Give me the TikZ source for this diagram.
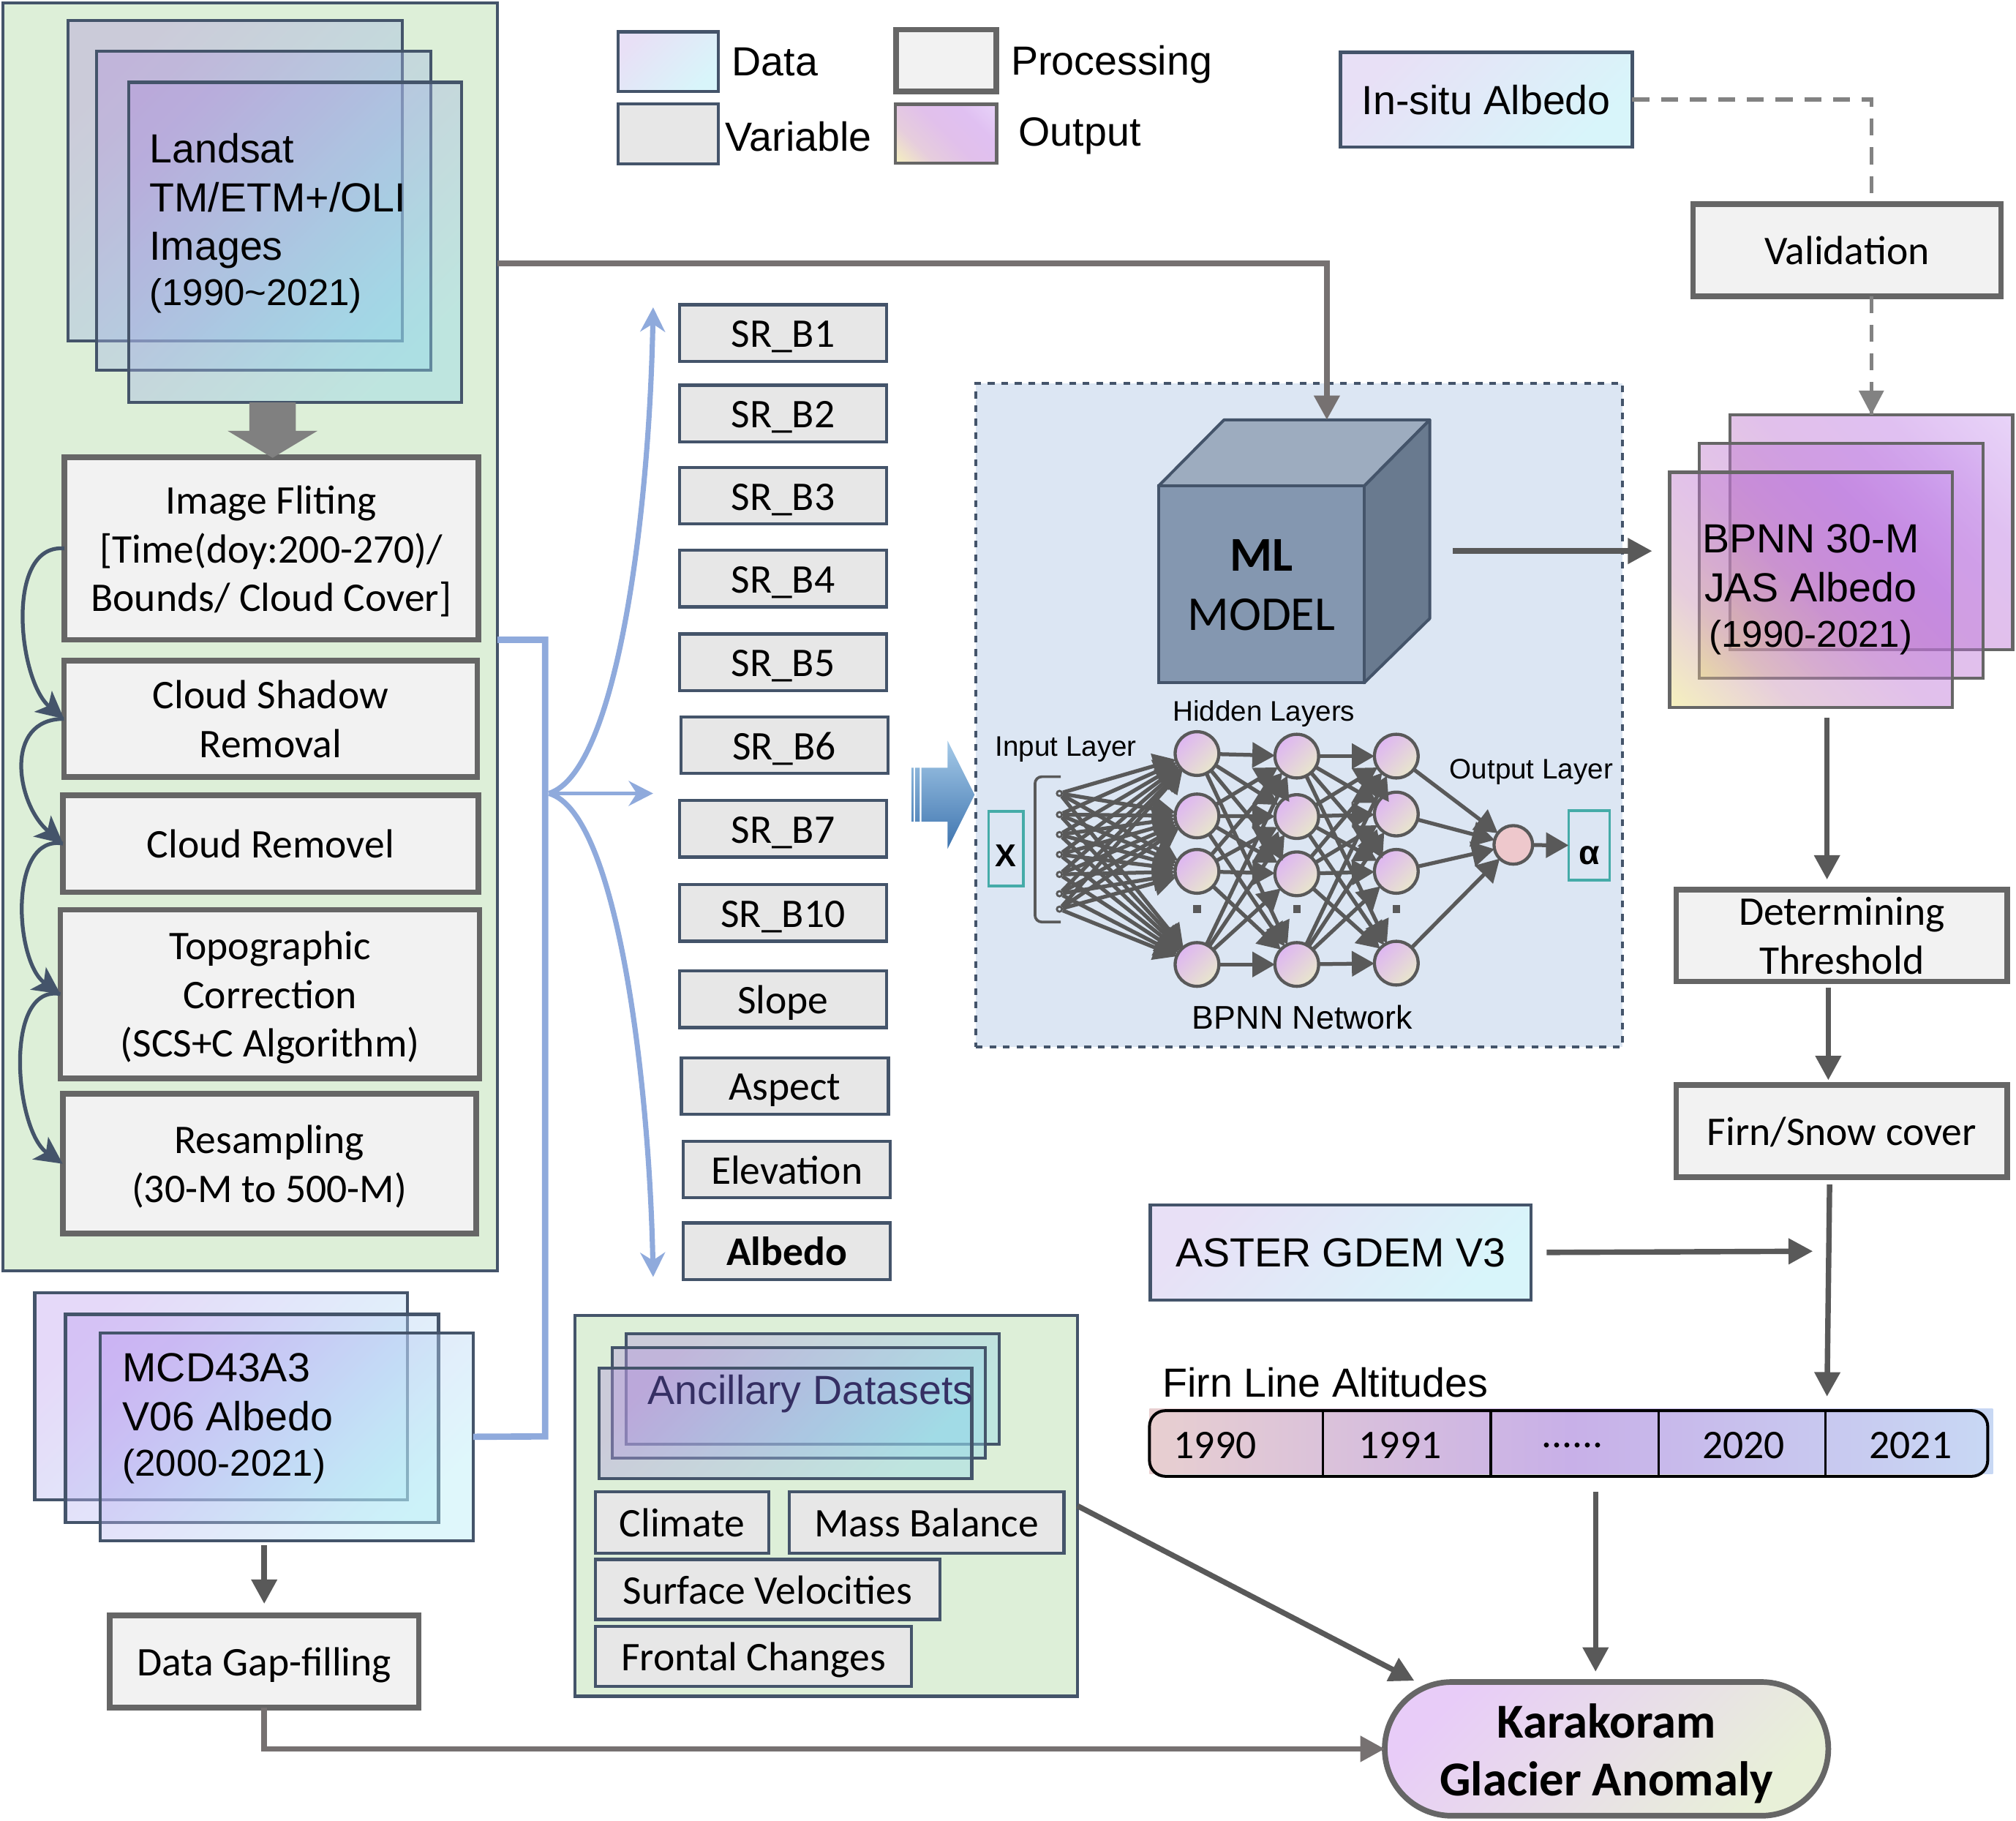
\documentclass[tikz,border=0pt]{standalone}
\usepackage{amsmath}
\usepackage{fontspec}
\setmainfont{Liberation Sans}
\newfontfamily\calib{Carlito}
\usepackage{tikz}
\usetikzlibrary{positioning, calc, arrows.meta, shapes.misc}
\definecolor{edgeblue}{HTML}{44546A}
\definecolor{procedge}{HTML}{666666}
\definecolor{procfill}{HTML}{F2F2F2}
\definecolor{varfill}{HTML}{E7E7E7}
\definecolor{panelgreen}{HTML}{DDEFD8}
\definecolor{panelblue}{HTML}{DCE6F3}
\definecolor{netgray}{HTML}{595959}
\definecolor{linegray}{HTML}{767171}
\definecolor{dashgray}{HTML}{828282}
\definecolor{pipeblue}{HTML}{8FAADC}
\definecolor{boxteal}{HTML}{45ABA8}
\definecolor{datatl}{HTML}{E8E0F6}
\definecolor{databr}{HTML}{D8F5FA}
\definecolor{layertl}{RGB}{190,160,240}
\definecolor{layerbr}{RGB}{175,235,245}
\definecolor{landtl}{RGB}{178,150,220}
\definecolor{landbr}{RGB}{145,215,235}
\definecolor{outbl}{RGB}{233,222,111}
\definecolor{outlow}{RGB}{200,145,178}
\definecolor{outmid}{RGB}{189,116,210}
\definecolor{outhigh}{RGB}{186,116,225}
\definecolor{outtr}{RGB}{204,158,240}
\definecolor{neurontl}{HTML}{DEB6F2}
\definecolor{neuronbr}{HTML}{E8E6CC}
\definecolor{neuronout}{HTML}{EEC8CC}
\definecolor{arrowtop}{HTML}{A5CAE8}
\definecolor{arrowbot}{HTML}{3E74AF}
\definecolor{cubetop}{HTML}{9DACBF}
\definecolor{cubeside}{HTML}{697A8F}
\definecolor{cubefront}{HTML}{8497B0}
\definecolor{barleft}{HTML}{E8CFD0}
\definecolor{barmid}{HTML}{C8B0E8}
\definecolor{barright}{HTML}{C8D8F4}
\definecolor{ancink}{HTML}{352F63}
\definecolor{kartl}{HTML}{E8CCF8}
\definecolor{karbr}{HTML}{E8F0D8}
\pgfdeclarehorizontalshading{outfade}{100bp}{color(0bp)=(outbl); color(15bp)=(outbl); color(32bp)=(outlow); color(50bp)=(outmid); color(68bp)=(outhigh); color(85bp)=(outtr); color(100bp)=(outtr)}
\tikzset{
    wh/.style 2 args={minimum width=#1*0.02cm, minimum height=#2*0.02cm, inner sep=0pt, outer sep=0pt},
    sanstext/.style={font=\fontsize{18}{21.6}\selectfont, inner sep=0pt},
    calibtext/.style={font=\calib\fontsize{18}{21.6}\selectfont},
    oneline/.style={text height=12.7pt, text depth=0pt},
    twolines/.style={text height=34.3pt, text depth=0pt},
    threelines/.style={text height=55.9pt, text depth=0pt},
    panel/.style={draw=edgeblue, line width=1.4pt, fill=panelgreen},
    procbox/.style={draw=procedge, line width=2.5pt, fill=procfill, calibtext, align=center, oneline},
    varbox/.style={draw=edgeblue, line width=1.4pt, fill=varfill, calibtext, align=center, oneline},
    databox/.style={draw=edgeblue, line width=1.4pt, left color=datatl, right color=databr, shading angle=45, sanstext, align=center},
    datalayer/.style={draw=edgeblue, line width=1.4pt, fill opacity=0.4, left color=layertl, right color=layerbr, shading angle=45},
    landlayer/.style={draw=edgeblue, line width=1.4pt, fill opacity=0.4, left color=landtl, right color=landbr, shading angle=45},
    outlayer/.style={draw=procedge, line width=1.4pt, fill opacity=0.45, shade, shading=outfade, shading angle=45},
    neuron/.style={circle, draw=netgray, line width=1.4pt, minimum size=34*0.02cm, inner sep=0pt, outer sep=0pt, left color=neurontl, right color=neuronbr, shading angle=45},
    inputdot/.style={circle, draw=netgray, fill=panelblue, line width=0.9pt, minimum size=4*0.02cm, inner sep=0pt},
    skipdot/.style={fill=netgray, minimum size=6*0.02cm, inner sep=0pt},
    netlabel/.style={font=\fontsize{12.5}{15}\selectfont},
    netedge/.style={draw=netgray, line width=1.7pt, -{Triangle[length=10pt,width=11pt]}},
    thickarrow/.style={draw=netgray, line width=2.4pt, -{Triangle[length=10.8pt,width=11pt]}},
    routearrow/.style={draw=linegray, line width=2.5pt, -{Triangle[length=10.8pt,width=11pt]}},
    dasharrow/.style={draw=dashgray, line width=1.8pt, dash pattern=on 7.5pt off 5.2pt},
    curvearrow/.style={draw=edgeblue, line width=1.7pt, -{Stealth[length=12pt,width=12pt,inset=3pt]}},
    pipe/.style={draw=pipeblue, line width=2.8pt},
    fanarrow/.style={draw=pipeblue, line width=2.3pt, -{Stealth[length=10.8pt,width=11pt,inset=3.5pt]}}
}
\begin{document}
\begin{tikzpicture}[x=0.02cm, y=-0.02cm]
        \useasboundingbox (0,0) rectangle (1568,1416);
        % left panel
        \node[panel, wh={384.5}{986}] (panel-left) at (194.7,495.3) {};
        \node[landlayer, wh={260}{249}] (land-1) at (183,140.5) {};
        \node[landlayer, wh={260}{248}] (land-2) at (205,164) {};
        \node[landlayer, wh={259}{249}] (land-3) at (229.5,188.5) {};
        \node[sanstext, align=left, anchor=west] (land-text) at (116,173.7) {Landsat\\TM/ETM+/OLI\\Images\\[-1.5pt]{\fontsize{16.5}{21.6}\selectfont (1990\textasciitilde 2021)}};
        \node[procbox, threelines, wh={322}{142}] (flt) at (211,426.5) {Image Fliting\\{}[Time(doy:200-270)/\\Bounds/ Cloud Cover]};
        \node[procbox, twolines, wh={321.5}{90.5}] (shadow) at (210.5,559) {Cloud Shadow\\Removal};
        \node[procbox, wh={323}{75.5}] (cloud) at (210.5,656) {Cloud Removel};
        \node[procbox, threelines, wh={326}{131}] (topo) at (210,773) {Topographic\\Correction\\(SCS+C Algorithm)};
        \node[procbox, twolines, wh={321.5}{108.5}] (resamp) at (209.5,905) {Resampling\\(30-M to 500-M)};
        % big arrow under the stack
        \fill[gray] (194,313) -- (230,313) -- (230,335) -- (247,335) -- (212,356) -- (177,335) -- (194,335) -- cycle;
        % steps
        \draw[curvearrow] (flt.west) to[out=175, in=140, looseness=0.9] (shadow.west);
        \draw[curvearrow] (shadow.west) to[out=180, in=140, looseness=1.25] (cloud.west);
        \draw[curvearrow] (cloud.west) to[out=170, in=145, looseness=0.95] (topo.west);
        \draw[curvearrow] (topo.west) to[out=170, in=145, looseness=0.88] (resamp.west);
        % modis stack
        \node[datalayer, wh={290}{161}] (mcd-1) at (172,1085.7) {};
        \node[datalayer, wh={290}{161.7}] (mcd-2) at (196,1103) {};
        \node[datalayer, wh={290}{161.4}] (mcd-3) at (223,1117.3) {};
        \node[sanstext, align=left, anchor=west] (mcd-text) at (95,1103) {MCD43A3\\V06 Albedo\\[-1.5pt]{\fontsize{16.5}{21.6}\selectfont (2000-2021)}};
        \node[procbox, wh={240.5}{72}] (gap) at (205.5,1292) {Data Gap-filling};
        % legend
        \node[databox, wh={78}{46.6}] (leg-data) at (519.7,48) {};
        \node[draw=edgeblue, line width=1.4pt, fill=varfill, wh={78}{46.6}] (leg-var) at (519.7,104) {};
        \node[procbox, wh={78}{48}] (leg-proc) at (736,47) {};
        \node[outlayer, wh={79}{46}] (leg-out) at (735.7,104) {};
        \node[sanstext, anchor=west] (leg-data-text) at (569,48) {Data};
        \node[sanstext, anchor=west] (leg-var-text) at (564,106) {Variable};
        \node[sanstext, anchor=west] (leg-proc-text) at (786,50) {Processing};
        \node[sanstext, anchor=west] (leg-out-text) at (792,106) {Output};
        % variables
        \foreach \nm/\xc/\yc/\lab in {sr1/609/259/SR\_B1, sr2/609/321.5/SR\_B2, sr3/609/385.5/SR\_B3, sr4/609/450/SR\_B4, sr5/609/515/SR\_B5, sr6/610/579.5/SR\_B6, sr7/609/644.5/SR\_B7, sr10/609/710/SR\_B10, slope/609/777/Slope, aspect/610.5/844.5/Aspect, elev/612/909.5/Elevation}
            \node[varbox, wh={161}{44}] (\nm) at (\xc,\yc) {\lab};
        \node[varbox, wh={161}{44}] (albedo) at (612,973) {\textbf{Albedo}};
        % blue pipes
        \coordinate (hub) at (424,1117);
        \coordinate (fan) at (427,617);
        \coordinate (fan-up) at (508,239);
        \coordinate (fan-mid) at (508,617);
        \coordinate (fan-down) at (508,993);
        \draw[pipe] (flt.south -| panel-left.east) -| (hub) -- (mcd-3.east);
        \draw[fanarrow] (fan) .. controls (480,600) and (505,400) .. (fan-up);
        \draw[fanarrow, line width=1.7pt] (fan) -- (fan-mid);
        \draw[fanarrow] (fan) .. controls (480,632) and (505,840) .. (fan-down);
        % striped arrow
        \shade[top color=arrowtop, bottom color=arrowbot] (716.6,597) -- (737,597) -- (737,576) -- (758,618) -- (737,660) -- (737,639) -- (716.6,639) -- cycle (711.8,597) rectangle (715.3,639) (709,597) rectangle (710.5,639);
        % model panel
        \node[draw=edgeblue, line width=1.4pt, dashed, fill=panelblue, wh={503}{516}] (model) at (1010.5,556) {};
        \filldraw[fill=cubetop, draw=edgeblue, line width=1.3pt, line join=round] (901,378) -- (952,326.5) -- (1112,326.5) -- (1061,378) -- cycle;
        \filldraw[fill=cubeside, draw=edgeblue, line width=1.3pt, line join=round] (1061,378) -- (1112,326.5) -- (1112,481) -- (1061,531) -- cycle;
        \node[draw=edgeblue, line width=1.3pt, fill=cubefront, wh={160}{153}, align=center, text height=40.4pt, text depth=0pt, font=\calib\fontsize{21.5}{26}\selectfont] (cube) at (981,454.5) {\textbf{ML}\\MODEL};
        \coordinate (cube-top) at (1032,326.5);
        \coordinate (cube-out) at (1130,428.5);
        \coordinate (land-out) at (387,205);
        % network nodes
        \foreach \i/\yy in {1/586, 2/634.5, 3/677.6, 4/750}
            \node[neuron] (h1-\i) at (931,\yy) {};
        \foreach \i/\yy in {1/588, 2/635, 3/679.5, 4/750}
            \node[neuron] (h2-\i) at (1008.6,\yy) {};
        \foreach \i/\yy in {1/588, 2/633, 3/677.6, 4/749}
            \node[neuron] (h3-\i) at (1086,\yy) {};
        \foreach \i/\yy in {1/617, 2/633.5, 3/649, 4/664.5, 5/680, 6/695, 7/707}
            \node[inputdot] (in-\i) at (824,\yy) {};
        \foreach \i/\xx in {1/931, 2/1008.6, 3/1086}
            \node[skipdot] (skip-\i) at (\xx,707) {};
        \node[circle, draw=netgray, line width=1.4pt, fill=neuronout, minimum size=30*0.02cm, inner sep=0pt, outer sep=0pt] (out) at (1177,657) {};
        \node[draw=boxteal, line width=1.2pt, fill=panelblue, wh={27}{58}, text height=15.6pt, text depth=0pt, font=\bfseries\fontsize{14}{16}\selectfont] (x-box) at (782.4,660) {X};
        \node[draw=boxteal, line width=1.2pt, fill=panelblue, wh={32}{54}, text height=16.5pt, text depth=0pt, font=\bfseries\fontsize{15}{16}\selectfont] (alpha-box) at (1236,657.5) {α};
        \node[netlabel] (hidden-text) at (983,555) {Hidden Layers};
        \node[netlabel] (input-text) at (829,583) {Input Layer};
        \node[netlabel] (output-text) at (1191,600) {Output Layer};
        \node[font=\fontsize{14.5}{16}\selectfont] (bpnn-text) at (1013,791) {BPNN Network};
        % network arrows
        \draw[draw=netgray, line width=1.2pt, rounded corners=3pt] (825,604) -- (805,604) -- (805,717) -- (825,717);
        \foreach \k in {1,...,7}
            \foreach \j in {1,...,4}
                \draw[netedge] (in-\k) -- (h1-\j);
        \foreach \i in {1,...,4}
            \foreach \j in {1,...,4} {
                \draw[netedge] (h1-\i) -- (h2-\j);
                \draw[netedge] (h2-\i) -- (h3-\j);
            }
        \foreach \i in {1,...,4}
            \draw[netedge] (h3-\i) -- (out);
        \draw[netedge] (out) -- (alpha-box);
        % output stack
        \node[outlayer, wh={220}{182.7}] (res-1) at (1455.5,414) {};
        \node[outlayer, wh={220.6}{182.7}] (res-2) at (1432,436) {};
        \node[outlayer, wh={220}{183}] (res-3) at (1408.5,458.8) {};
        \node[sanstext, align=center] (res-text) at (1408.3,458.5) {BPNN 30-M\\JAS Albedo\\[-1.5pt]{\fontsize{16.5}{21.6}\selectfont (1990-2021)}};
        % right column
        \node[databox, wh={227}{73.6}] (insitu) at (1156,77.5) {In-situ Albedo};
        \node[procbox, wh={239.5}{71.5}] (valid) at (1436.5,194.5) {Validation};
        \node[procbox, twolines, wh={257.5}{71.5}] (thresh) at (1432.5,727.5) {Determining\\Threshold};
        \node[procbox, wh={257.5}{71.5}] (firn) at (1432.5,879.5) {Firn/Snow cover};
        \node[databox, wh={296}{74}] (aster) at (1042.6,974) {ASTER GDEM V3};
        \node[sanstext, anchor=west] (fla-text) at (904,1075) {Firn Line Altitudes};
        % altitude bar
        \shade[left color=barleft, right color=barright, middle color=barmid] (894,1095.5) rectangle (1550,1146);
        \node[draw=black, line width=1.3pt, rounded corners=7pt, wh={652}{51}] (bar) at (1220,1122.5) {};
        \foreach \xx in {1029, 1159.5, 1290, 1420}
            \draw[black, line width=1pt] (\xx,1097) -- (\xx,1148);
        \foreach \xx/\lab/\nm in {945/1990/y1, 1089/1991/y2, 1356/2020/y4, 1486/2021/y5}
            \node[calibtext] (\nm) at (\xx,1124) {\lab};
        \node[calibtext] (y3) at (1223,1124) {......};
        % ancillary panel
        \node[panel, wh={391}{296}] (panel-anc) at (642.5,1171) {};
        \node[landlayer, wh={290}{86}] (anc-1) at (632,1080) {};
        \node[landlayer, wh={290}{86}] (anc-2) at (621.3,1091) {};
        \node[landlayer, wh={290}{86}] (anc-3) at (610.8,1107) {};
        \node[sanstext, text=ancink, anchor=west] (anc-text) at (503.5,1084) {Ancillary Datasets};
        \node[varbox, wh={135}{48}] (climate) at (530.5,1184) {Climate};
        \node[varbox, wh={213.5}{48}] (mass) at (720.7,1184) {Mass Balance};
        \node[varbox, wh={268}{46.7}] (surface) at (597,1236) {Surface Velocities};
        \node[varbox, wh={246}{46.6}] (frontal) at (586,1288) {Frontal Changes};
        % result
        \node[rounded rectangle, draw=procedge, line width=2.5pt, left color=kartl, right color=karbr, shading angle=45, wh={345}{104}, align=center, text height=41.3pt, text depth=0pt, font=\calib\bfseries\fontsize{21.6}{25.6}\selectfont] (kar) at (1249.5,1360) {Karakoram\\Glacier Anomaly};
        \coordinate (kar-in) at (1100,1307);
        \coordinate (kar-top) at (1241,1300);
        \coordinate (bar-out) at (1241,1160);
        % arrows
        \draw[routearrow] (land-out) -| (cube-top);
        \draw[thickarrow] (cube-out) -- (1285,428.5);
        \draw[dasharrow] (insitu.east) -| (res-1.north |- valid.north);
        \draw[dasharrow] (res-1.north |- valid.south) -- (res-1.north);
        \draw[draw=dashgray, line width=1.8pt, -{Triangle[length=10.8pt,width=10.8pt]}] (1455.5,303) -- (res-1.north);
        \draw[thickarrow] (1421,558) -- (1421,684);
        \draw[thickarrow] (1422,768) -- (1422,840);
        \draw[thickarrow] (1423,921) -- (1421,1086);
        \draw[thickarrow, shorten <=7pt] (aster.east) -- (1410,973);
        \draw[thickarrow] (bar-out) -- (kar-top);
        \draw[thickarrow] (panel-anc.east) -- (kar-in);
        \draw[thickarrow, shorten <=2pt, shorten >=5pt] (gap.north |- mcd-3.south) -- (gap.north);
        \draw[routearrow] (gap.south) |- (kar.west);
\end{tikzpicture}
\end{document}
